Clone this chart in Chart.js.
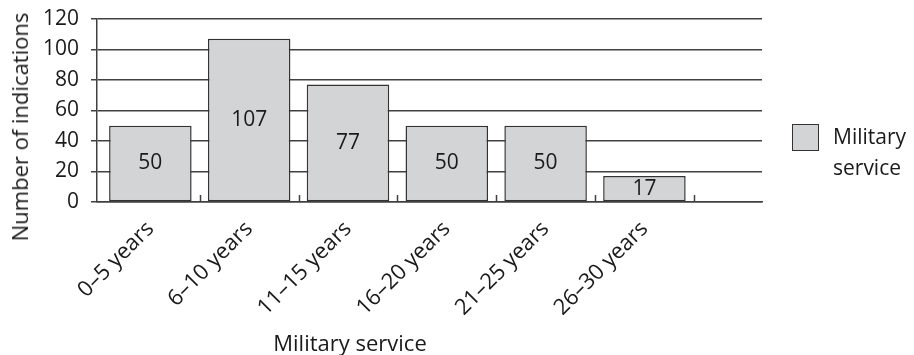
<!DOCTYPE html>
<html>
<head>
<meta charset="utf-8">
<script src="https://cdn.jsdelivr.net/npm/chart.js@4.4.1/dist/chart.umd.min.js"></script>
<style>
    html, body { margin: 0; padding: 0; background: #fff; }
    #wrap { position: relative; width: 914px; height: 355px; font-family: 'Open Sans', sans-serif; color: #1a1a1a; }
    #chart { position: absolute; left: 0; top: 0; }
    .y-title { position: absolute; left: 19px; top: 127px; transform: translate(-50%, -50%) rotate(-90deg); font-size: 22px; white-space: nowrap; }
    .x-title { position: absolute; left: 350px; top: 342px; transform: translate(-50%, -50%); font-size: 22px; white-space: nowrap; }
    .legend-box { position: absolute; left: 792px; top: 124px; width: 27px; height: 27px; box-sizing: border-box; border: 1.5px solid #333; background: #d3d4d6; }
    .legend-text { position: absolute; left: 833px; top: 121px; font-size: 21px; line-height: 31px; }
</style>
</head>
<body>
<div id="wrap">
    <canvas id="chart" width="914" height="355"></canvas>
    <div class="y-title" id="y-title"></div>
    <div class="x-title" id="x-title"></div>
    <div class="legend-box"></div>
    <div class="legend-text" id="legend-text"></div>
</div>
<script>
const categories = ['0–5 years', '6–10 years', '11–15 years', '16–20 years', '21–25 years', '26–30 years'];
const values = [50, 107, 77, 50, 50, 17];
const yTicks = [0, 20, 40, 60, 80, 100, 120];
const seriesName = 'Military service';
const xTitle = 'Military service';
const yTitle = 'Number of indications';

const ink = '#1a1a1a';
const lineColor = '#404040';
const barFill = '#d3d4d6';

document.getElementById('y-title').textContent = yTitle;
document.getElementById('x-title').textContent = xTitle;
document.getElementById('legend-text').innerHTML = seriesName.split(' ').join('<br>');

Chart.defaults.font.family = "'Open Sans', sans-serif";
Chart.defaults.color = ink;

// value printed in the middle of each bar
const barLabels = {
    id: 'barLabels',
    afterDatasetsDraw(chart) {
        const ctx = chart.ctx;
        const meta = chart.getDatasetMeta(0);
        ctx.save();
        ctx.font = "21px 'Open Sans'";
        ctx.fillStyle = ink;
        ctx.textAlign = 'center';
        ctx.textBaseline = 'middle';
        meta.data.forEach((bar, i) => {
            ctx.fillText(String(values[i]), bar.x, (bar.y + bar.base) / 2);
        });
        ctx.restore();
    }
};

// short inward marks between categories
const boundaryTicks = {
    id: 'boundaryTicks',
    afterDatasetsDraw(chart) {
        const ctx = chart.ctx;
        const xs = chart.scales.x;
        const y0 = chart.scales.y.getPixelForValue(0);
        ctx.save();
        ctx.strokeStyle = lineColor;
        ctx.lineWidth = 1.5;
        ctx.beginPath();
        for (let i = 0; i < categories.length; i++) {
            const px = Math.round(xs.getPixelForValue(i + 0.5)) + 0.5;
            ctx.moveTo(px, y0);
            ctx.lineTo(px, y0 - 7);
        }
        ctx.stroke();
        ctx.restore();
    }
};

new Chart(document.getElementById('chart').getContext('2d'), {
    type: 'bar',
    data: {
        datasets: [{
            label: seriesName,
            data: values.map((v, i) => ({ x: i, y: v })),
            backgroundColor: barFill,
            borderColor: '#333',
            borderWidth: 1.5,
            borderSkipped: false,
            categoryPercentage: 1,
            barPercentage: 0.835
        }]
    },
    options: {
        responsive: false,
        animation: false,
        layout: { padding: { top: 19, right: 152, left: 0, bottom: 0 } },
        plugins: {
            legend: { display: false },
            tooltip: { enabled: false }
        },
        scales: {
            x: {
                type: 'linear',
                offset: false,
                min: -0.54,
                max: 6.19,
                afterBuildTicks: s => { s.ticks = categories.map((c, i) => ({ value: i })); },
                afterFit: s => { s.height = 153; },
                ticks: {
                    callback: v => categories[v] ?? '',
                    minRotation: 45,
                    maxRotation: 45,
                    autoSkip: false,
                    padding: 6,
                    font: { size: 22 },
                    color: ink
                },
                grid: { display: false },
                border: { display: true, color: lineColor, width: 1.5 }
            },
            y: {
                min: 0,
                max: 120,
                afterBuildTicks: s => { s.ticks = yTicks.map(v => ({ value: v })); },
                afterFit: s => { s.width = 97; s.paddingTop = 0; s.paddingBottom = 0; },
                ticks: {
                    padding: 12,
                    font: { size: 21 },
                    color: ink
                },
                grid: { color: lineColor, lineWidth: 1.5, tickLength: 6 },
                border: { color: lineColor, width: 1.5 }
            }
        }
    },
    plugins: [barLabels, boundaryTicks]
});
</script>
</body>
</html>
